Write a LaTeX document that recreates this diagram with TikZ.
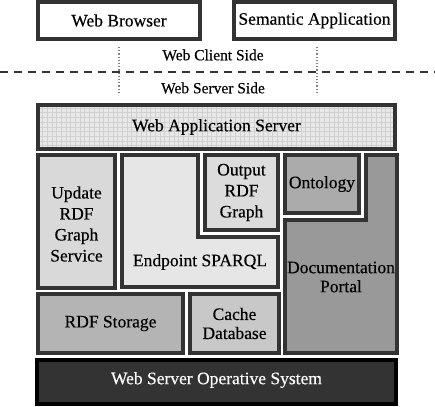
\documentclass[tikz,border=0pt]{standalone}
\usepackage{fontspec}
\setmainfont{Liberation Serif}[FakeBold=0.35]
\usetikzlibrary{positioning}
\definecolor{boxline}{HTML}{333333}
\definecolor{gridgray}{HTML}{D0D0D0}
\definecolor{appfill}{HTML}{E8E8E8}
\definecolor{updfill}{HTML}{D9D9D9}
\definecolor{endfill}{HTML}{E6E6E6}
\definecolor{outfill}{HTML}{DCDCDC}
\definecolor{ontfill}{HTML}{ABABAB}
\definecolor{docfill}{HTML}{999999}
\definecolor{rdffill}{HTML}{B4B4B4}
\definecolor{cachefill}{HTML}{C8C8C8}
\definecolor{osfill}{HTML}{333333}

\begin{document}
\begin{tikzpicture}[
  x=1pt, y=-1pt,
  font=\fontsize{17.5}{21}\selectfont,
  layer/.style={draw=boxline, line width=4pt, fill=#1, align=center, inner sep=0pt},
  lbl/.style={align=center, inner sep=0pt},
  side/.style={font=\fontsize{15.5}{18}\selectfont, inner sep=0pt},
  gridline/.style={draw=gridgray, line width=0.9pt},
]
\useasboundingbox (0,0) rectangle (435,406);

% client side
\node[layer=white, minimum width=162pt, minimum height=37pt] (browser) at (119,20.5) {Web Browser};
\node[layer=white, minimum width=161pt, minimum height=37pt] (semantic) at (314.5,20.5) {Semantic Application};

\node[side] (client) at (213,55) {Web Client Side};
\node[side] (server) at (213,88) {Web Server Side};

\coordinate (leftend) at (0,72);
\coordinate (rightend) at (435,72);
\draw[boxline, line width=2pt, dash pattern=on 8pt off 6pt] (leftend) -- (rightend);

\coordinate (dotAtop) at (119,47);
\coordinate (dotAbot) at (119,95);
\coordinate (dotBtop) at (317,47);
\coordinate (dotBbot) at (317,95);
\draw[gray, line width=1.3pt, dash pattern=on 1.3pt off 1.9pt] (dotAtop) -- (dotAbot);
\draw[gray, line width=1.3pt, dash pattern=on 1.3pt off 1.9pt] (dotBtop) -- (dotBbot);

% server side
\node[layer=appfill, minimum width=357pt, minimum height=43pt,
      path picture={\draw[gridline, step=4.7pt]
        (path picture bounding box.south west) grid (path picture bounding box.north east);}]
  (appserver) at (216.5,127) {};
\node[lbl] (appserverlbl) at (appserver.center) {Web Application Server};

\node[layer=updfill, minimum width=77pt, minimum height=133pt] (update) at (76.5,221.5) {};
\node[lbl] (updatelbl) at (76.5,224) {Update\\RDF\\Graph\\Service};

\draw[layer=endfill] (122,155) -- (198,155) -- (198,237) -- (278,237) -- (278,287) -- (122,287) -- cycle;
\node[lbl] (endpoint) at (200,262) {Endpoint SPARQL};

\node[layer=outfill, minimum width=73pt, minimum height=75pt] (output) at (241.5,192.5) {Output\\RDF\\Graph};

\node[layer=ontfill, minimum width=74pt, minimum height=58pt] (ontology) at (322,184) {Ontology};

\draw[layer=docfill] (366,155) -- (397,155) -- (397,353) -- (285,353) -- (285,220) -- (366,220) -- cycle;
\node[lbl, font=\fontsize{17.5}{19}\selectfont] (docportal) at (341,277) {Documentation\\Portal};

\node[layer=rdffill, minimum width=145pt, minimum height=59pt] (rdfstorage) at (110.5,323.5) {RDF Storage};
\node[layer=cachefill, minimum width=89pt, minimum height=59pt,
      font=\fontsize{17.5}{19}\selectfont] (cache) at (234.5,323.5) {Cache\\Database};

\node[layer=osfill, draw=black, text=white, minimum width=359pt, minimum height=44pt] (os) at (216.5,382) {};
\node[lbl, text=white] (oslbl) at (216.5,380) {Web Server Operative System};

\end{tikzpicture}
\end{document}
